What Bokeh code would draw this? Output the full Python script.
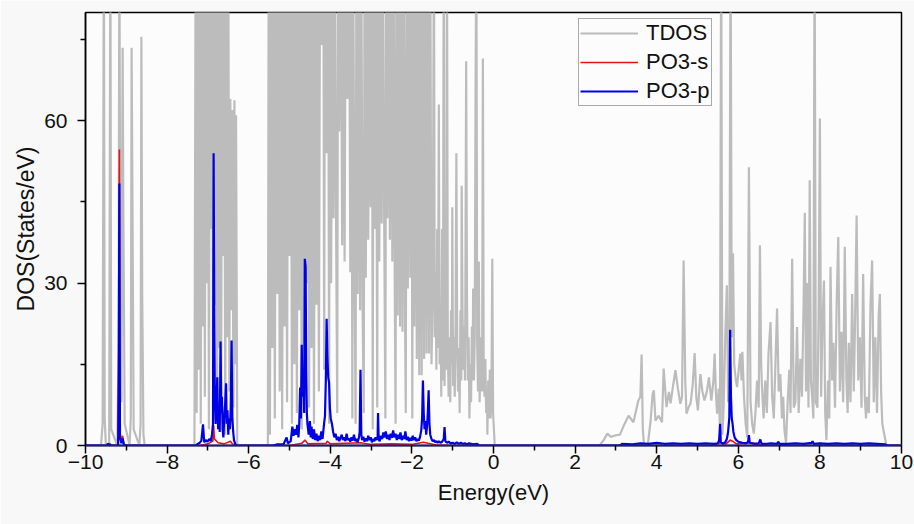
from bokeh.plotting import figure
from bokeh.models import FixedTicker, Legend, LegendItem, Range1d
from bokeh.embed import file_html
from bokeh.resources import INLINE

# ---------------- data (Energy eV, DOS states/eV) ----------------
x_ticks = [-10, -8, -6, -4, -2, 0, 2, 4, 6, 8, 10]
x_minor = [-9, -7, -5, -3, -1, 1, 3, 5, 7, 9]
y_ticks = [0, 30, 60]
y_minor = [15, 45, 75]
series_names = ["TDOS", "PO3-s", "PO3-p"]

tdos_a = [(-10.00, 0), (-9.62, 0), (-9.58, 4), (-9.55, 95), (-9.53, 5), (-9.50, 0),
          (-9.42, 0), (-9.40, 66), (-9.39, 95), (-9.37, 3), (-9.22, 0), (-9.19, 18),
          (-9.17, 95), (-9.15, 40), (-9.12, 8), (-9.09, 73.5), (-9.07, 40), (-9.04, 4),
          (-8.92, 0), (-8.89, 5), (-8.87, 73.5), (-8.85, 46.5), (-8.82, 3), (-8.68, 0),
          (-8.65, 4), (-8.63, 75.5), (-8.61, 28), (-8.58, 2), (-8.55, 0)]

tdos_b = [(-7.33, 0), (-7.30, 95), (-7.275, 6), (-7.25, 95), (-7.225, 14), (-7.20, 95),
          (-7.175, 4), (-7.15, 95), (-7.125, 22), (-7.10, 95), (-7.075, 9), (-7.05, 95),
          (-7.025, 30), (-7.00, 95), (-6.975, 3), (-6.95, 95), (-6.925, 40), (-6.90, 95),
          (-6.875, 12), (-6.85, 95), (-6.825, 26), (-6.80, 95), (-6.775, 5), (-6.75, 95),
          (-6.725, 18), (-6.70, 95), (-6.675, 8), (-6.65, 95), (-6.625, 35), (-6.60, 95),
          (-6.575, 2), (-6.55, 95), (-6.525, 20), (-6.50, 95), (-6.475, 10), (-6.45, 64),
          (-6.425, 25), (-6.40, 62), (-6.375, 7), (-6.35, 63.8), (-6.325, 15), (-6.31, 61),
          (-6.28, 0)]

tdos_c = [(-5.53, 0), (-5.51, 95), (-5.48, 2), (-5.45, 95), (-5.42, 18), (-5.39, 95),
          (-5.36, 5), (-5.33, 95), (-5.30, 28), (-5.27, 95), (-5.24, 10), (-5.21, 95),
          (-5.18, 3), (-5.15, 95), (-5.12, 22), (-5.09, 95), (-5.06, 8), (-5.03, 95),
          (-5.00, 35), (-4.97, 95), (-4.94, 4), (-4.91, 95), (-4.88, 15), (-4.85, 95),
          (-4.82, 6), (-4.79, 95), (-4.76, 25), (-4.73, 95), (-4.70, 3), (-4.67, 95),
          (-4.64, 12), (-4.61, 95), (-4.58, 30), (-4.55, 95), (-4.52, 7), (-4.49, 95),
          (-4.46, 18), (-4.43, 95), (-4.40, 4), (-4.37, 95), (-4.34, 26), (-4.31, 95),
          (-4.28, 10), (-4.25, 95), (-4.21, 74), (-4.17, 95), (-4.15, 14), (-4.13, 95),
          (-4.09, 54), (-4.05, 95), (-4.03, 4), (-4.01, 95), (-3.98, 30), (-3.95, 95),
          (-3.92, 42), (-3.89, 95), (-3.86, 43), (-3.83, 6), (-3.81, 95), (-3.78, 58),
          (-3.74, 95), (-3.71, 37), (-3.68, 95), (-3.65, 34), (-3.62, 95), (-3.58, 64),
          (-3.54, 95), (-3.51, 32), (-3.48, 95), (-3.46, 5), (-3.44, 95), (-3.41, 37),
          (-3.38, 4), (-3.36, 95), (-3.33, 28), (-3.30, 95), (-3.27, 25), (-3.24, 95),
          (-3.21, 26), (-3.18, 6), (-3.16, 95), (-3.13, 31), (-3.10, 95), (-3.07, 38),
          (-3.04, 95), (-3.01, 44), (-2.98, 95), (-2.96, 3), (-2.94, 95), (-2.91, 40),
          (-2.88, 95), (-2.85, 7), (-2.83, 95), (-2.80, 34), (-2.77, 95), (-2.74, 41),
          (-2.71, 95), (-2.68, 43), (-2.65, 5), (-2.63, 95), (-2.60, 42), (-2.57, 95),
          (-2.54, 38), (-2.51, 95), (-2.48, 34), (-2.45, 95), (-2.42, 29), (-2.40, 4),
          (-2.38, 95), (-2.35, 24), (-2.32, 95), (-2.29, 22), (-2.26, 95), (-2.23, 21),
          (-2.20, 95), (-2.17, 25), (-2.15, 6), (-2.13, 95), (-2.10, 29), (-2.07, 95),
          (-2.04, 31), (-2.01, 95), (-1.99, 5), (-1.97, 95), (-1.94, 22), (-1.91, 95),
          (-1.88, 16), (-1.85, 95), (-1.82, 13), (-1.79, 95), (-1.76, 13), (-1.73, 95),
          (-1.70, 16), (-1.67, 95), (-1.64, 17), (-1.61, 95), (-1.58, 17), (-1.55, 95),
          (-1.52, 15), (-1.49, 28), (-1.46, 95), (-1.44, 20), (-1.42, 32), (-1.40, 14),
          (-1.38, 40), (-1.36, 18), (-1.34, 63), (-1.32, 15), (-1.30, 26), (-1.28, 9),
          (-1.26, 40), (-1.24, 12), (-1.22, 95), (-1.20, 11), (-1.18, 24), (-1.16, 14),
          (-1.14, 95), (-1.12, 18), (-1.10, 9), (-1.08, 20), (-1.06, 8), (-1.04, 25),
          (-1.02, 15), (-1.01, 44), (-0.99, 11), (-0.97, 20), (-0.95, 9), (-0.93, 22),
          (-0.91, 54), (-0.89, 19), (-0.87, 10), (-0.85, 18), (-0.83, 6), (-0.81, 25),
          (-0.79, 12), (-0.78, 48), (-0.76, 25), (-0.74, 14), (-0.72, 22), (-0.70, 12),
          (-0.69, 27), (-0.67, 71), (-0.65, 27), (-0.63, 12), (-0.61, 20), (-0.59, 5),
          (-0.57, 15), (-0.55, 8), (-0.53, 22), (-0.51, 12), (-0.50, 29), (-0.48, 12),
          (-0.46, 20), (-0.44, 65), (-0.42, 95), (-0.40, 19), (-0.38, 10), (-0.36, 34),
          (-0.34, 8), (-0.32, 15), (-0.30, 20), (-0.28, 10), (-0.26, 71.5), (-0.24, 13),
          (-0.22, 9), (-0.20, 16), (-0.18, 6), (-0.16, 10), (-0.15, 2), (-0.13, 12),
          (-0.11, 5), (-0.09, 14), (-0.07, 5), (-0.05, 10), (-0.03, 34.5), (-0.01, 6),
          (0.01, 3), (0.03, 0)]

tdos_d = [(2.60, 0), (2.70, 1.0), (2.79, 2.2), (2.87, 1.6), (3.00, 1.9), (3.10, 2.0),
          (3.20, 3.8), (3.31, 5.5), (3.43, 4.3), (3.55, 8.3), (3.60, 9.0), (3.63, 16.8),
          (3.66, 3), (3.69, 0), (3.78, 0), (3.85, 4.5), (3.90, 9.5), (3.93, 10.2),
          (3.97, 4.6), (4.05, 5.5), (4.13, 4.3), (4.17, 14.2), (4.24, 7.1), (4.30, 9.9),
          (4.34, 7.8), (4.40, 11), (4.46, 13.9), (4.52, 10.5), (4.58, 7.7), (4.62, 9),
          (4.66, 34.2), (4.70, 12), (4.73, 5.9), (4.78, 7), (4.83, 7.8), (4.88, 11),
          (4.93, 17.1), (4.97, 9), (5.01, 6.5), (5.07, 13.2), (5.12, 10), (5.17, 8.3),
          (5.23, 10), (5.28, 12.6), (5.34, 8.3), (5.39, 12), (5.42, 17.0), (5.45, 10),
          (5.48, 5.9), (5.52, 10.5), (5.55, 3), (5.58, 95), (5.61, 2), (5.64, 7),
          (5.68, 20), (5.72, 29.6), (5.75, 8), (5.78, 12), (5.81, 95), (5.84, 20),
          (5.87, 35.5), (5.90, 15), (5.94, 12), (5.97, 10.8), (6.01, 14), (6.05, 17.0),
          (6.08, 12), (6.10, 17.3), (6.14, 9), (6.18, 4), (6.22, 1.5), (6.26, 51.4),
          (6.30, 8), (6.34, 4), (6.38, 2.2), (6.42, 6), (6.46, 12), (6.50, 7),
          (6.53, 37), (6.56, 15), (6.58, 10.8), (6.62, 5), (6.66, 12), (6.70, 6),
          (6.74, 17), (6.79, 22.8), (6.83, 9), (6.87, 5), (6.91, 15), (6.95, 25.3),
          (6.99, 10), (7.03, 13.2), (7.07, 5), (7.10, 9), (7.13, 3), (7.17, 0.5),
          (7.21, 8), (7.25, 14), (7.28, 6), (7.32, 34.5), (7.36, 7), (7.40, 8),
          (7.44, 21.9), (7.48, 6), (7.52, 16), (7.56, 9), (7.60, 26), (7.63, 43),
          (7.66, 10), (7.69, 30), (7.72, 7), (7.75, 49), (7.78, 12), (7.81, 9),
          (7.84, 5), (7.87, 95), (7.90, 8), (7.94, 7), (7.97, 25), (8.00, 60.4),
          (8.03, 9), (8.06, 22), (8.10, 30.5), (8.13, 6), (8.16, 1), (8.20, 12),
          (8.23, 5), (8.26, 33), (8.30, 12), (8.33, 19), (8.37, 7), (8.41, 26),
          (8.45, 38.5), (8.49, 10), (8.53, 21), (8.57, 8), (8.61, 36.7), (8.65, 12),
          (8.68, 6), (8.71, 19), (8.75, 8), (8.79, 28), (8.83, 10), (8.86, 22),
          (8.90, 42.5), (8.94, 12), (8.98, 20), (9.02, 7), (9.06, 31.7), (9.10, 9),
          (9.13, 5), (9.16, 9), (9.20, 6), (9.24, 26), (9.28, 34.2), (9.32, 8),
          (9.36, 20), (9.40, 6), (9.44, 24), (9.47, 28), (9.50, 10), (9.53, 4),
          (9.58, 2), (9.63, 0), (10.00, 0)]

po3_s = [(-10.0, 0), (-9.20, 0), (-9.185, 15.7), (-9.17, 54.7), (-9.155, 2.5), (-9.12, 0.5),
         (-9.09, 1.8), (-9.06, 0.2), (-9.00, 0), (-7.20, 0), (-7.00, 0.3), (-6.88, 0.8),
         (-6.86, 3.8), (-6.84, 1.2), (-6.75, 0.5), (-6.60, 0.3), (-6.45, 0.8), (-6.40, 0.3),
         (-6.30, 0), (-5.00, 0), (-4.70, 0.4), (-4.62, 1.0), (-4.55, 0.3), (-4.10, 0.4),
         (-4.08, 0.8), (-4.00, 0.3), (-3.26, 0.5), (-3.00, 0.2), (-2.50, 0.3), (-2.00, 0.2),
         (-1.72, 0.6), (-1.60, 0.4), (-1.40, 0.1), (-1.00, 0), (5.40, 0), (5.56, 0.5),
         (5.70, 0.3), (5.80, 1.0), (5.86, 0.8), (5.95, 0.3), (6.26, 0.5), (6.50, 0.3),
         (6.60, 0), (10.0, 0)]

po3_p = [(-10.0, 0), (-9.47, 0), (-9.45, 0.4), (-9.43, 0), (-9.40, 0.3), (-9.38, 0),
         (-9.20, 0), (-9.185, 13.9), (-9.17, 48.4), (-9.155, 1.5), (-9.12, 0.4), (-9.09, 1.3),
         (-9.06, 0.2), (-9.00, 0), (-7.30, 0), (-7.25, 0.3), (-7.20, 0.5), (-7.16, 0.9),
         (-7.12, 3.9), (-7.09, 0.6), (-7.05, 1.0), (-7.01, 0.7), (-6.97, 1.2), (-6.93, 0.8),
         (-6.90, 2.0), (-6.875, 4.0), (-6.86, 54.0), (-6.845, 26.8), (-6.83, 9), (-6.81, 4),
         (-6.79, 8), (-6.77, 12.6), (-6.75, 3), (-6.73, 7), (-6.71, 2.5), (-6.69, 19.2),
         (-6.67, 6), (-6.655, 9), (-6.64, 3), (-6.62, 1.5), (-6.60, 5), (-6.575, 8),
         (-6.555, 11.5), (-6.54, 4), (-6.52, 6.5), (-6.50, 2), (-6.48, 5), (-6.46, 3),
         (-6.44, 7), (-6.42, 19.4), (-6.40, 5), (-6.38, 2.5), (-6.36, 1.0), (-6.33, 0.3),
         (-6.30, 0), (-5.40, 0), (-5.30, 0.2), (-5.15, 0.2), (-5.07, 1.5), (-5.04, 0.4),
         (-4.97, 0.8), (-4.93, 3.5), (-4.90, 1.8), (-4.87, 3.0), (-4.84, 2.0), (-4.81, 3.8),
         (-4.78, 1.5), (-4.76, 4.2), (-4.74, 10.7), (-4.72, 5), (-4.70, 18.6), (-4.68, 9),
         (-4.66, 14), (-4.64, 6), (-4.625, 34.5), (-4.605, 33), (-4.59, 14), (-4.575, 6),
         (-4.56, 4), (-4.53, 2), (-4.50, 4.5), (-4.48, 1.5), (-4.46, 3.5), (-4.43, 1.2),
         (-4.40, 3), (-4.37, 1.0), (-4.34, 2.2), (-4.31, 0.8), (-4.28, 1.8), (-4.25, 1.0),
         (-4.22, 2.6), (-4.19, 1.2), (-4.16, 3.5), (-4.13, 5.5), (-4.11, 12), (-4.09, 23.4),
         (-4.07, 16), (-4.05, 12.5), (-4.03, 11.7), (-4.01, 7), (-3.99, 5), (-3.96, 4),
         (-3.93, 2.5), (-3.90, 1.5), (-3.87, 2.2), (-3.84, 1.0), (-3.81, 1.6), (-3.78, 0.8),
         (-3.75, 1.4), (-3.72, 2.0), (-3.69, 1.0), (-3.66, 1.5), (-3.63, 0.8), (-3.60, 2.2),
         (-3.57, 1.0), (-3.54, 1.3), (-3.51, 0.7), (-3.48, 1.5), (-3.45, 0.9), (-3.42, 2.0),
         (-3.39, 0.8), (-3.36, 1.2), (-3.33, 0.6), (-3.30, 1.4), (-3.28, 2.5), (-3.26, 14),
         (-3.24, 2.0), (-3.22, 1.0), (-3.19, 1.6), (-3.16, 0.7), (-3.13, 1.3), (-3.10, 0.8),
         (-3.07, 1.8), (-3.04, 1.0), (-3.01, 1.5), (-2.98, 0.6), (-2.95, 1.2), (-2.92, 0.8),
         (-2.89, 1.5), (-2.86, 1.0), (-2.84, 1.6), (-2.83, 6.0), (-2.815, 1.2), (-2.79, 0.8),
         (-2.76, 1.8), (-2.73, 1.2), (-2.70, 2.4), (-2.67, 1.5), (-2.64, 2.6), (-2.61, 1.2),
         (-2.58, 2.0), (-2.55, 1.0), (-2.52, 2.2), (-2.49, 1.4), (-2.46, 2.8), (-2.43, 1.5),
         (-2.40, 2.2), (-2.37, 1.0), (-2.34, 2.0), (-2.31, 1.2), (-2.28, 2.4), (-2.25, 1.0),
         (-2.22, 1.8), (-2.19, 1.2), (-2.16, 2.6), (-2.13, 1.0), (-2.10, 1.6), (-2.07, 0.8),
         (-2.04, 1.4), (-2.01, 0.9), (-1.98, 1.8), (-1.95, 1.0), (-1.92, 1.5), (-1.89, 0.8),
         (-1.86, 1.2), (-1.83, 0.9), (-1.80, 1.6), (-1.77, 2.8), (-1.75, 5), (-1.73, 12),
         (-1.71, 6), (-1.69, 3), (-1.67, 4.5), (-1.65, 2), (-1.63, 3.5), (-1.61, 6),
         (-1.59, 10.2), (-1.57, 4), (-1.55, 2), (-1.52, 1.2), (-1.49, 0.8), (-1.46, 1.0),
         (-1.43, 0.6), (-1.40, 0.8), (-1.37, 0.5), (-1.34, 0.8), (-1.30, 0.5), (-1.26, 0.7),
         (-1.22, 1.2), (-1.20, 3.4), (-1.18, 0.8), (-1.14, 0.5), (-1.10, 0.7), (-1.05, 0.4),
         (-1.00, 0.5), (-0.95, 0.3), (-0.90, 0.6), (-0.85, 0.3), (-0.80, 0.5), (-0.75, 0.3),
         (-0.70, 0.4), (-0.65, 0.2), (-0.60, 0.4), (-0.50, 0.2), (-0.40, 0.3), (-0.35, 0),
         (3.10, 0), (3.15, 0.3), (3.40, 0.2), (3.60, 0.4), (3.80, 0.3), (4.00, 0.5),
         (4.20, 0.3), (4.40, 0.4), (4.60, 0.3), (4.80, 0.4), (5.00, 0.3), (5.20, 0.4),
         (5.40, 0.3), (5.50, 0.4), (5.53, 1.0), (5.555, 4.0), (5.57, 0.6), (5.62, 0.3),
         (5.68, 0.6), (5.72, 1.2), (5.75, 2.5), (5.78, 5.2), (5.80, 21.4), (5.82, 9),
         (5.84, 5.0), (5.86, 4.0), (5.88, 2.5), (5.91, 1.5), (5.95, 1.0), (6.00, 0.7),
         (6.10, 0.5), (6.20, 0.4), (6.24, 0.7), (6.26, 1.9), (6.28, 0.5), (6.40, 0.3),
         (6.50, 0.4), (6.54, 1.1), (6.57, 0.3), (6.70, 0.3), (6.80, 0.4), (6.95, 0.3),
         (6.98, 0.7), (7.01, 0.3), (7.20, 0.3), (7.40, 0.4), (7.60, 0.3), (7.80, 0.5),
         (7.82, 0.8), (7.85, 0.3), (8.00, 0.4), (8.20, 0.3), (8.40, 0.4), (8.60, 0.3),
         (8.80, 0.4), (9.00, 0.3), (9.20, 0.4), (9.40, 0.3), (9.60, 0.2), (9.65, 0),
         (10.0, 0)]

# ---------------- build ----------------
def unzip(pairs):
    return [a for a, _ in pairs], [b for _, b in pairs]

tdos_pairs = tdos_a + tdos_b + tdos_c + tdos_d
te, tv = unzip(tdos_pairs)
se, sv = unzip(po3_s)
pe, pv = unzip(po3_p)

FONT = "Liberation Sans"

p = figure(width=914, height=524, output_backend="svg", toolbar_location=None,
           x_range=Range1d(-10, 10), y_range=Range1d(0, 80),
           min_border_left=85, min_border_right=13, min_border_top=12, min_border_bottom=79)
p.background_fill_color = "#fcfcfc"
p.border_fill_color = "#f8f8f8"
p.outline_line_color = "black"
p.outline_line_width = 1.5
p.xgrid.visible = False
p.ygrid.visible = False

r_t = p.line(te, tv, line_color="#bcbcbc", line_width=2.2)
r_s = p.line(se, sv, line_color="#ee1111", line_width=1.6)
r_p = p.line(pe, pv, line_color="#0000e6", line_width=2.2)

for ax in (p.xaxis[0], p.yaxis[0]):
    ax.major_tick_in = 0
    ax.major_tick_out = 8
    ax.minor_tick_in = 0
    ax.minor_tick_out = 5
    ax.major_tick_line_width = 1.5
    ax.minor_tick_line_width = 1.5
    ax.major_tick_line_color = "black"
    ax.minor_tick_line_color = "black"
    ax.major_label_text_font = FONT
    ax.major_label_text_font_size = "21px"
    ax.major_label_text_color = "#111111"
    ax.axis_label_text_font = FONT
    ax.axis_label_text_font_style = "normal"
    ax.axis_label_text_color = "#111111"

p.xaxis.ticker = FixedTicker(ticks=x_ticks, minor_ticks=x_minor)
p.yaxis.ticker = FixedTicker(ticks=y_ticks, minor_ticks=y_minor)
p.xaxis.axis_line_color = "#1e1e78"
p.xaxis.axis_line_width = 2
p.yaxis.axis_line_color = "black"
p.yaxis.axis_line_width = 1.5
p.xaxis.major_label_standoff = 1
p.yaxis.major_label_standoff = 10
p.xaxis.axis_label = "Energy(eV)"
p.yaxis.axis_label = "DOS(States/eV)"
p.xaxis.axis_label_text_font_size = "22px"
p.yaxis.axis_label_text_font_size = "23px"
p.xaxis.axis_label_standoff = 8
p.yaxis.axis_label_standoff = 2

legend = Legend(items=[LegendItem(label=series_names[0], renderers=[r_t]),
                       LegendItem(label=series_names[1], renderers=[r_s]),
                       LegendItem(label=series_names[2], renderers=[r_p])],
                location=(493, 339))
legend.glyph_width = 58
legend.glyph_height = 22
legend.label_height = 22
legend.label_standoff = 8
legend.label_text_font = FONT
legend.label_text_font_size = "22px"
legend.label_text_color = "#111111"
legend.padding = 1
legend.spacing = 3
legend.margin = 0
legend.border_line_color = "#555555"
legend.border_line_width = 1
legend.background_fill_color = "#fcfcfc"
legend.background_fill_alpha = 1.0
p.add_layout(legend)

open("out.html", "w").write(file_html(p, INLINE))
